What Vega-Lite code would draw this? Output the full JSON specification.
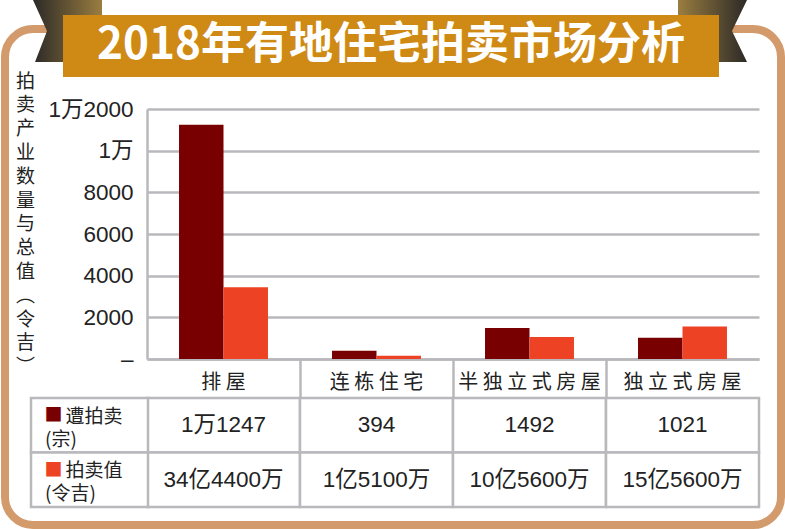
{
  "$schema": "https://vega.github.io/schema/vega-lite/v6.json",
  "background": "white",
  "padding": {"left": 5, "top": 0, "right": 4, "bottom": 4},
  "autosize": {"type": "pad"},
  "config": {"font": "Noto Sans CJK SC"},
  "datasets": {
    "bars": [
      {"type": "排屋", "series": "遭拍卖", "value": 11247},
      {"type": "连栋住宅", "series": "遭拍卖", "value": 394},
      {"type": "半独立式房屋", "series": "遭拍卖", "value": 1492},
      {"type": "独立式房屋", "series": "遭拍卖", "value": 1021},
      {"type": "排屋", "series": "拍卖值", "value": 3444},
      {"type": "连栋住宅", "series": "拍卖值", "value": 151},
      {"type": "半独立式房屋", "series": "拍卖值", "value": 1056},
      {"type": "独立式房屋", "series": "拍卖值", "value": 1556}
    ],
    "table": [
      {"type": "排屋", "row": "遭拍卖", "text": "1万1247"},
      {"type": "连栋住宅", "row": "遭拍卖", "text": "394"},
      {"type": "半独立式房屋", "row": "遭拍卖", "text": "1492"},
      {"type": "独立式房屋", "row": "遭拍卖", "text": "1021"},
      {"type": "排屋", "row": "拍卖值", "text": "34亿4400万"},
      {"type": "连栋住宅", "row": "拍卖值", "text": "1亿5100万"},
      {"type": "半独立式房屋", "row": "拍卖值", "text": "10亿5600万"},
      {"type": "独立式房屋", "row": "拍卖值", "text": "15亿5600万"}
    ],
    "rowlabels": [
      {"col": "label", "row": "遭拍卖", "series": "遭拍卖", "l1": "遭拍卖", "l2": "(宗)"},
      {"col": "label", "row": "拍卖值", "series": "拍卖值", "l1": "拍卖值", "l2": "(令吉)"}
    ],
    "banner": [
      {"title": "2018年有地住宅拍卖市场分析", "side": "L"}
    ]
  },
  "width": 776,
  "height": 496,
  "view": {"fill": "white", "stroke": "#d39a6c", "strokeWidth": 8, "cornerRadius": 28},
  "resolve": {"scale": {"x": "independent", "y": "independent"}},
  "layer": [
    {
      "data": {"name": "banner"},
      "mark": {"type": "point", "filled": true, "opacity": 1, "size": 3844,
        "shape": "M -1.113 -1 L 1.113 -1 L 1.113 1 L -1.048 1 L -0.661 0 Z",
        "fill": {"gradient": "linear", "x1": 0, "x2": 1, "y1": 0, "y2": 0, "stops": [{"offset": 0, "color": "#2c2a27"}, {"offset": 1, "color": "#9a7d40"}]}},
      "encoding": {
        "x": {"field": "side", "type": "nominal", "scale": {"range": [28, 97], "paddingInner": 0, "paddingOuter": 0}, "axis": null},
        "y": {"field": "side", "type": "nominal", "scale": {"range": [-29, 33], "paddingInner": 0, "paddingOuter": 0}, "axis": null}
      }
    },
    {
      "data": {"name": "banner"},
      "mark": {"type": "point", "filled": true, "opacity": 1, "size": 3844,
        "shape": "M -1.113 -1 L 1.113 -1 L 0.629 0 L 1.113 1 L -1.113 1 Z",
        "fill": {"gradient": "linear", "x1": 0, "x2": 1, "y1": 0, "y2": 0, "stops": [{"offset": 0, "color": "#9a7d40"}, {"offset": 1, "color": "#2c2a27"}]}},
      "encoding": {
        "x": {"field": "side", "type": "nominal", "scale": {"range": [673, 742], "paddingInner": 0, "paddingOuter": 0}, "axis": null},
        "y": {"field": "side", "type": "nominal", "scale": {"range": [-29, 33], "paddingInner": 0, "paddingOuter": 0}, "axis": null}
      }
    },
    {
      "data": {"name": "banner"},
      "mark": {"type": "rect", "fill": "#cf8a15"},
      "encoding": {
        "x": {"field": "title", "type": "nominal", "scale": {"range": [58, 714], "paddingInner": 0, "paddingOuter": 0}, "axis": null},
        "y": {"field": "title", "type": "nominal", "scale": {"range": [-14, 48], "paddingInner": 0, "paddingOuter": 0}, "axis": null}
      }
    },
    {
      "data": {"name": "banner"},
      "mark": {"type": "text", "fontSize": 44, "fontWeight": "bold", "color": "white", "font": "Noto Sans CJK SC", "baseline": "middle", "align": "center"},
      "encoding": {
        "x": {"field": "title", "type": "nominal", "scale": {"range": [58, 714], "paddingInner": 0, "paddingOuter": 0}, "axis": null},
        "y": {"field": "title", "type": "nominal", "scale": {"range": [-14, 48], "paddingInner": 0, "paddingOuter": 0}, "axis": null},
        "text": {"field": "title"}
      }
    },
    {
      "data": {"name": "bars"},
      "mark": {"type": "bar"},
      "encoding": {
        "x": {
          "field": "type", "type": "nominal",
          "scale": {"domain": ["排屋", "连栋住宅", "半独立式房屋", "独立式房屋"], "range": [142, 754], "paddingInner": 0, "paddingOuter": 0},
          "axis": {
            "title": null, "orient": "bottom", "offset": -166, "grid": false,
            "domainColor": "#b9b9bd", "domainWidth": 2.5,
            "ticks": true, "tickSize": 38, "tickWidth": 2.5, "bandPosition": 0,
            "tickColor": {"condition": {"test": "datum.value === '排屋'", "value": "transparent"}, "value": "#b9b9bd"},
            "labelAngle": 0, "labelFontSize": 20, "labelColor": "#222222", "labelPadding": -15, "labelBaseline": "middle",
            "labelExpr": "join(split(datum.label, ''), ' ')"
          }
        },
        "xOffset": {
          "field": "series", "type": "nominal",
          "scale": {"domain": ["遭拍卖", "拍卖值"], "paddingInner": 0, "paddingOuter": 0.72}
        },
        "y": {
          "field": "value", "type": "quantitative",
          "scale": {"domain": [0, 12000], "range": [330, 80], "nice": false},
          "axis": {
            "title": ["拍", "卖", "产", "业", "数", "量", "与", "总", "值", "︵", "令", "吉", "︶"],
            "orient": "left", "offset": -142,
            "values": [0, 2000, 4000, 6000, 8000, 10000, 12000], "format": "d",
            "labelExpr": "datum.value === 12000 ? '1万2000' : datum.value === 10000 ? '1万' : datum.value === 0 ? '–' : datum.label",
            "ticks": false, "labelPadding": 14, "labelFontSize": 22.5, "labelFont": "Liberation Sans, Noto Sans CJK SC", "labelColor": "#222222",
            "domainColor": "#b9b9bd", "domainWidth": 2.5,
            "grid": true, "gridColor": "#b9b9bd", "gridWidth": 2.5,
            "titleX": -122, "titleY": 43, "titleAngle": 0, "titleAlign": "center", "titleBaseline": "top",
            "titleFontSize": 19, "titleFontWeight": "normal", "titleLineHeight": 23.8, "titleColor": "#222222"
          }
        },
        "color": {
          "field": "series", "type": "nominal",
          "scale": {"domain": ["遭拍卖", "拍卖值"], "range": ["#780000", "#ee4224"]},
          "legend": null
        }
      }
    },
    {
      "data": {"name": "table"},
      "mark": {"type": "rect", "fill": "white", "stroke": "#b9b9bd", "strokeWidth": 2.5},
      "encoding": {
        "x": {"field": "type", "type": "nominal", "scale": {"domain": ["排屋", "连栋住宅", "半独立式房屋", "独立式房屋"], "range": [142, 754], "paddingInner": 0, "paddingOuter": 0}, "axis": null},
        "y": {"field": "row", "type": "nominal", "scale": {"domain": ["遭拍卖", "拍卖值"], "range": [369, 478], "paddingInner": 0, "paddingOuter": 0}, "axis": null}
      }
    },
    {
      "data": {"name": "table"},
      "mark": {"type": "text", "fontSize": 22.5, "font": "Liberation Sans, Noto Sans CJK SC", "color": "#222222", "baseline": "middle", "align": "center"},
      "encoding": {
        "x": {"field": "type", "type": "nominal", "scale": {"domain": ["排屋", "连栋住宅", "半独立式房屋", "独立式房屋"], "range": [142, 754], "paddingInner": 0, "paddingOuter": 0}, "axis": null},
        "y": {"field": "row", "type": "nominal", "scale": {"domain": ["遭拍卖", "拍卖值"], "range": [369, 478], "paddingInner": 0, "paddingOuter": 0}, "axis": null},
        "text": {"field": "text"}
      }
    },
    {
      "data": {"name": "rowlabels"},
      "mark": {"type": "rect", "fill": "white", "stroke": "#b9b9bd", "strokeWidth": 2.5},
      "encoding": {
        "x": {"field": "col", "type": "nominal", "scale": {"domain": ["label"], "range": [26, 143], "paddingInner": 0, "paddingOuter": 0}, "axis": null},
        "y": {"field": "row", "type": "nominal", "scale": {"domain": ["遭拍卖", "拍卖值"], "range": [369, 478], "paddingInner": 0, "paddingOuter": 0}, "axis": null}
      }
    },
    {
      "data": {"name": "rowlabels"},
      "mark": {"type": "text", "text": "■", "fontSize": 18, "align": "left", "baseline": "middle", "dx": -45, "dy": -9},
      "encoding": {
        "x": {"field": "col", "type": "nominal", "scale": {"domain": ["label"], "range": [26, 143], "paddingInner": 0, "paddingOuter": 0}, "axis": null},
        "y": {"field": "row", "type": "nominal", "scale": {"domain": ["遭拍卖", "拍卖值"], "range": [369, 478], "paddingInner": 0, "paddingOuter": 0}, "axis": null},
        "color": {"field": "series", "type": "nominal", "scale": {"domain": ["遭拍卖", "拍卖值"], "range": ["#780000", "#ee4224"]}, "legend": null}
      }
    },
    {
      "data": {"name": "rowlabels"},
      "mark": {"type": "text", "fontSize": 19, "color": "#222222", "align": "left", "baseline": "middle", "dx": -24, "dy": -8.5},
      "encoding": {
        "x": {"field": "col", "type": "nominal", "scale": {"domain": ["label"], "range": [26, 143], "paddingInner": 0, "paddingOuter": 0}, "axis": null},
        "y": {"field": "row", "type": "nominal", "scale": {"domain": ["遭拍卖", "拍卖值"], "range": [369, 478], "paddingInner": 0, "paddingOuter": 0}, "axis": null},
        "text": {"field": "l1"}
      }
    },
    {
      "data": {"name": "rowlabels"},
      "mark": {"type": "text", "fontSize": 19, "color": "#222222", "align": "left", "baseline": "middle", "dx": -44.5, "dy": 14.5},
      "encoding": {
        "x": {"field": "col", "type": "nominal", "scale": {"domain": ["label"], "range": [26, 143], "paddingInner": 0, "paddingOuter": 0}, "axis": null},
        "y": {"field": "row", "type": "nominal", "scale": {"domain": ["遭拍卖", "拍卖值"], "range": [369, 478], "paddingInner": 0, "paddingOuter": 0}, "axis": null},
        "text": {"field": "l2"}
      }
    }
  ]
}
